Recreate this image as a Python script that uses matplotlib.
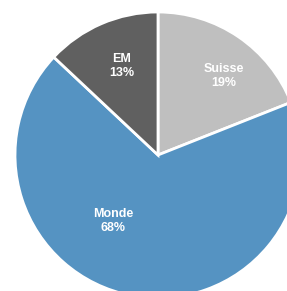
import matplotlib
matplotlib.use("Agg")
import matplotlib.pyplot as plt
import numpy as np

categories = ["Suisse", "Monde", "EM"]
values = [19, 68, 13]
colors = ["#BFBFBF", "#5593C2", "#606060"]

W, H = 287, 291
cx, cy, R = 158, 155, 143

fig = plt.figure(figsize=(W / 100, H / 100), dpi=100)
ax = fig.add_axes([0, 0, 1, 1])

wedges, _ = ax.pie(values, colors=colors, startangle=90, counterclock=False,
                   radius=1.0, wedgeprops=dict(edgecolor="white", linewidth=2),
                   frame=True)
ax.set_xlim(-cx / R, (W - cx) / R)
ax.set_ylim((cy - H) / R, cy / R)
ax.axis("off")

# label anchor points (pixel positions from the reference)
label_px = [(224, 76), (113, 221), (122, 66)]
for cat, v, (px, py) in zip(categories, values, label_px):
    ax.text((px - cx) / R, (cy - py) / R, f"{cat}\n{v}%", ha="center", va="center",
            color="white", fontsize=9, fontweight="bold", family="Liberation Sans",
            linespacing=1.25)

fig.savefig("out.png", dpi=100)
